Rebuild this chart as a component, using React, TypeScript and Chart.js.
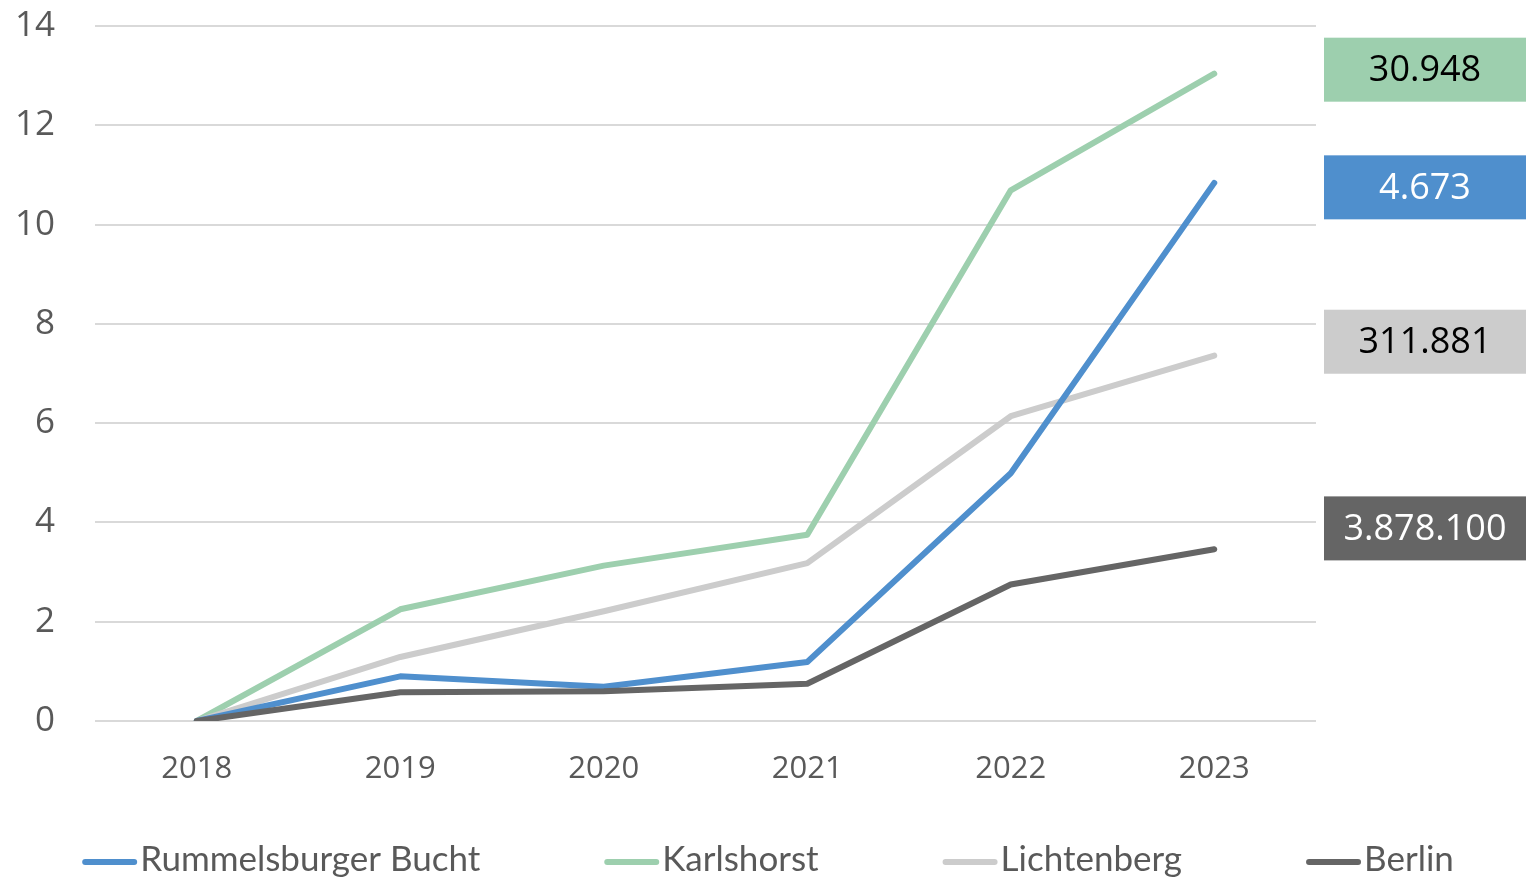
import React, { useEffect, useRef } from "react";
import { Chart, registerables } from "chart.js";

Chart.register(...registerables);

const YEARS = ["2018", "2019", "2020", "2021", "2022", "2023"];
const RUMMELSBURG = [0, 0.9, 0.69, 1.19, 4.99, 10.84];
const KARLSHORST = [0, 2.25, 3.13, 3.75, 10.69, 13.04];
const LICHTENBERG = [0, 1.29, 2.21, 3.18, 6.14, 7.36];
const BERLIN = [0, 0.58, 0.6, 0.75, 2.75, 3.46];

const SERIES_NAMES = ["Rummelsburger Bucht", "Karlshorst", "Lichtenberg", "Berlin"];
const SERIES_COLORS = ["#4f8fcd", "#9dcfae", "#cccccc", "#656565"];
const END_LABELS = ["4.673", "30.948", "311.881", "3.878.100"];
const END_LABEL_TEXT_COLORS = ["#ffffff", "#000000", "#000000", "#ffffff"];
// vertical centre of each end-label box, in axis units
const END_LABEL_ANCHORS = [10.75, 13.12, 7.64, 3.88];

const FONT = "'Open Sans', 'Noto Sans', sans-serif";
const LEGEND_FONT = "Lato, 'Open Sans', sans-serif";

const overlayPlugin = {
  id: "overlay",
  afterDraw(chart: any) {
    const ctx = chart.ctx;
    const yScale = chart.scales.y;
    const W = chart.width;
    ctx.save();
    const boxLeft = chart.chartArea.right + 8;
    const boxH = 64;
    END_LABELS.forEach((txt, i) => {
      const cy = yScale.getPixelForValue(END_LABEL_ANCHORS[i]);
      ctx.fillStyle = SERIES_COLORS[i];
      ctx.fillRect(boxLeft, cy - boxH / 2, W - boxLeft, boxH);
      ctx.fillStyle = END_LABEL_TEXT_COLORS[i];
      ctx.font = `36px ${FONT}`;
      ctx.textAlign = "center";
      ctx.textBaseline = "middle";
      ctx.fillText(txt, (boxLeft + W) / 2, cy + 1);
    });
    ctx.restore();

    ctx.save();
    ctx.font = `35px ${LEGEND_FONT}`;
    const lineW = 55;
    const textGap = 3;
    const itemGap = 124;
    const widths = SERIES_NAMES.map((n) => ctx.measureText(n).width);
    const total =
      widths.reduce((a, b) => a + b, 0) + SERIES_NAMES.length * (lineW + textGap) + itemGap * (SERIES_NAMES.length - 1);
    let x = 768 - total / 2;
    const ly = 862;
    chart.data.datasets.forEach((ds: any, i: number) => {
      ctx.strokeStyle = ds.borderColor;
      ctx.lineWidth = 6;
      ctx.lineCap = "round";
      ctx.beginPath();
      ctx.moveTo(x + 3, ly);
      ctx.lineTo(x + lineW - 3, ly);
      ctx.stroke();
      ctx.fillStyle = "#595959";
      ctx.textAlign = "left";
      ctx.textBaseline = "middle";
      ctx.fillText(ds.label, x + lineW + textGap, ly - 2);
      x += lineW + textGap + widths[i] + itemGap;
    });
    ctx.restore();
  },
};

export default function App() {
  const ref = useRef<HTMLCanvasElement | null>(null);
  useEffect(() => {
    if (!ref.current) return;
    const seriesData = [RUMMELSBURG, KARLSHORST, LICHTENBERG, BERLIN];
    const order = [1, 3, 2, 0];
    const chart = new Chart(ref.current, {
      type: "line",
      data: {
        labels: YEARS,
        datasets: SERIES_NAMES.map((name, i) => ({
          label: name,
          data: seriesData[i],
          borderColor: SERIES_COLORS[i],
          backgroundColor: SERIES_COLORS[i],
          borderWidth: 6,
          pointRadius: 0,
          borderCapStyle: "round",
          borderJoinStyle: "round",
          tension: 0,
          order: order[i],
        })),
      },
      options: {
        animation: false,
        responsive: true,
        maintainAspectRatio: false,
        layout: { padding: { top: 26, right: 210, bottom: 95, left: 0 } },
        plugins: {
          legend: { display: false },
          tooltip: { enabled: false },
        },
        scales: {
          x: {
            offset: true,
            afterFit(scale: any) {
              scale.height = 65;
            },
            grid: { display: false, drawTicks: false },
            border: { display: false },
            ticks: {
              color: "#595959",
              font: { family: FONT, size: 31 },
              padding: 30,
            },
          },
          y: {
            min: 0,
            max: 14,
            afterFit(scale: any) {
              scale.width = 95;
              scale.paddingTop = 0;
              scale.paddingBottom = 0;
            },
            grid: { color: "#d9d9d9", lineWidth: 2, drawTicks: false },
            border: { display: false },
            ticks: {
              stepSize: 2,
              color: "#595959",
              font: { family: FONT, size: 35 },
              padding: 40,
            },
          },
        },
      },
      plugins: [overlayPlugin],
    } as any);
    return () => chart.destroy();
  }, []);
  return (
    <div style={{ position: "absolute", left: 0, top: 0, width: 1526, height: 881, background: "#fff" }}>
      <canvas ref={ref} />
    </div>
  );
}
